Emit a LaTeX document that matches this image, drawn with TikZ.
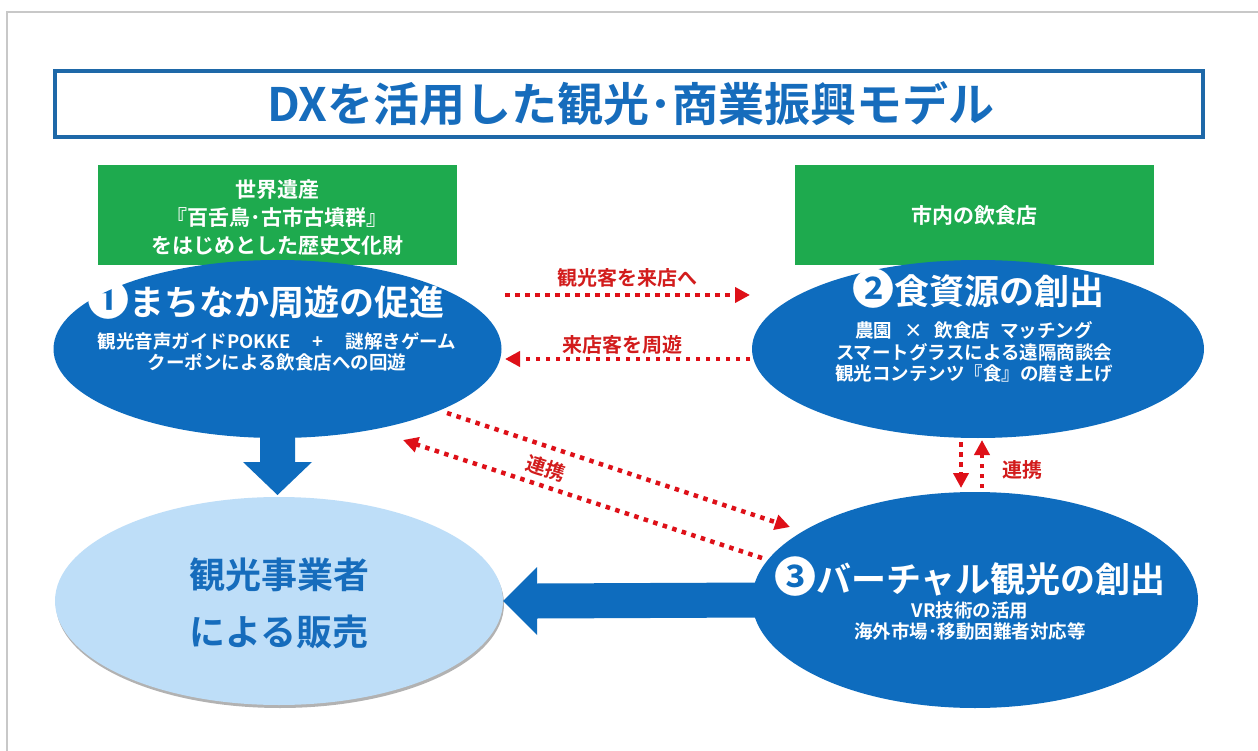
\documentclass[tikz,border=0pt]{standalone}
\usepackage{fontspec}
\newfontfamily\jp{Noto Sans CJK JP Bold}
\usetikzlibrary{arrows.meta,shadows,calc,shapes.geometric}
\definecolor{dblue}{RGB}{14,108,190}
\definecolor{tblue}{RGB}{22,108,188}
\definecolor{bordblue}{RGB}{30,104,168}
\definecolor{dgreen}{RGB}{30,170,78}
\definecolor{lblue}{RGB}{190,222,248}
\definecolor{dred}{RGB}{222,16,24}
\definecolor{lred}{RGB}{210,28,28}
\definecolor{framegray}{RGB}{200,200,200}
\newcommand{\bignum}[1]{{\fontsize{42}{40}\selectfont #1}}
\begin{document}
\begin{tikzpicture}[x=1pt,y=-1pt,
  every node/.style={inner sep=0pt, outer sep=0pt},
  ovalnode/.style={ellipse, fill=dblue, draw=none},
  greenbox/.style={rectangle, fill=dgreen, minimum width=359pt, minimum height=100pt},
  wt/.style={text=white, align=center},
  headtext/.style={wt, font=\jp\fontsize{35}{40}\selectfont},
  subtext/.style={wt, font=\jp\fontsize{18.5}{21.5}\selectfont},
  gtext/.style={wt, font=\jp\fontsize{21}{28}\selectfont},
  redlbl/.style={text=lred, font=\jp\fontsize{20}{24}\selectfont},
  redarrow/.style={draw=dred, line width=4.5pt, dash pattern=on 4.5pt off 5.5pt, -{Triangle[length=15pt,width=15pt]}},
]
\useasboundingbox (0,0) rectangle (1258,751);
\fill[white] (0,0) rectangle (1258,751);
\draw[framegray, line width=1.2pt] (7,751) -- (7,12) -- (1258,12);

% title
\node[draw=bordblue, line width=4pt, minimum width=1148pt, minimum height=66pt] (title) at (629,104) {};
\node[text=tblue, font=\jp\fontsize{46}{50}\selectfont] (titletext) at (631,104) {DXを活用した観光･商業振興モデル};

% green boxes
\node[greenbox] (g1) at (277.5,215) {};
\node[greenbox] (g2) at (974,215) {};
\node[gtext] (g1t) at (277,218) {世界遺産\\『百舌鳥･古市古墳群』\\をはじめとした歴史文化財};
\node[gtext] (g2t) at (974,216) {市内の飲食店};

% ellipses
\node[ovalnode, minimum width=448pt, minimum height=178pt] (e1) at (277.5,349) {};
\node[ovalnode, minimum width=452pt, minimum height=178pt] (e2) at (978,349) {};
\node[ovalnode, minimum width=446pt, minimum height=216pt] (e3) at (975,600) {};
\node[ellipse, fill=lblue, draw=none, minimum width=448pt, minimum height=208pt,
      drop shadow={shadow xshift=1pt, shadow yshift=-3pt, opacity=0.3, fill=black}] (e4) at (279,601) {};

% block arrows
\fill[dblue] ($(e1.south)+(-17.5,-8)$) -- ($(e1.south)+(17.5,-8)$) -- ($(e1.south)+(17.5,24)$)
  -- ($(e1.south)+(34.5,24)$) -- ($(e1.south)+(0,57)$) -- ($(e1.south)+(-34.5,24)$)
  -- ($(e1.south)+(-17.5,24)$) -- cycle;
\fill[dblue] (e4.east) -- ($(e4.east)+(34,-34)$) -- ($(e4.east)+(34,-17.5)$)
  -- ($(e3.west)+(10,-17.5)$) -- ($(e3.west)+(10,17.5)$) -- ($(e4.east)+(34,17.5)$)
  -- ($(e4.east)+(34,34)$) -- cycle;

% texts in ellipses
\node[headtext] (e1h) at (266,300) {\bignum{❶}まちなか周遊の促進};
\node[subtext] (e1s) at (277,352) {観光音声ガイドPOKKE\hspace{22pt}+\hspace{22pt}謎解きゲーム\\クーポンによる飲食店への回遊};
\node[headtext] (e2h) at (978,289) {\bignum{❷}食資源の創出};
\node[subtext] (e2s) at (974,352) {農園\hspace{12pt}×\hspace{12pt}飲食店\hspace{10pt}マッチング\\スマートグラスによる遠隔商談会\\観光コンテンツ『食』の磨き上げ};
\node[headtext] (e3h) at (970,577) {\bignum{❸}バーチャル観光の創出};
\node[subtext] (e3s) at (970,621) {VR技術の活用\\海外市場･移動困難者対応等};
\node[text=tblue, align=center, font=\jp\fontsize{36}{57}\selectfont] (e4t) at (279,603) {観光事業者\\による販売};

% red dotted arrows
\coordinate (a1s) at (505,295); \coordinate (a1e) at (750,295);
\coordinate (a2s) at (750,359); \coordinate (a2e) at (505,359);
\coordinate (a3s) at (447,413); \coordinate (a3e) at (790,527);
\coordinate (a4s) at (762,558); \coordinate (a4e) at (403,440);
\coordinate (a5s) at (961,442); \coordinate (a5e) at (961,488);
\coordinate (a6s) at (982,488); \coordinate (a6e) at (982,440);
\draw[redarrow] (a1s) -- (a1e);
\draw[redarrow] (a2s) -- (a2e);
\draw[redarrow] (a3s) -- (a3e);
\draw[redarrow] (a4s) -- (a4e);
\draw[redarrow] (a5s) -- (a5e);
\draw[redarrow] (a6s) -- (a6e);

\node[redlbl] (l1) at (627,278) {観光客を来店へ};
\node[redlbl] (l2) at (622,345) {来店客を周遊};
\node[redlbl, rotate=-18] (l3) at (546,468) {連携};
\node[redlbl] (l4) at (1022,470) {連携};
\end{tikzpicture}
\end{document}
